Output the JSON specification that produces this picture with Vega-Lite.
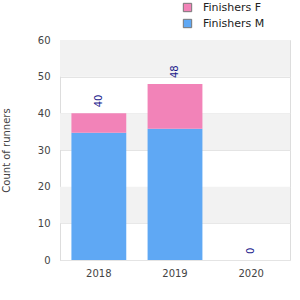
{
  "$schema": "https://vega.github.io/schema/vega-lite/v6.json",
  "autosize": "none",
  "width": 230,
  "height": 220,
  "padding": {"left": 60, "top": 40, "right": 10, "bottom": 40},
  "config": {
    "font": "DejaVu Sans",
    "view": {"stroke": "#dddddd"},
    "axis": {"labelFont": "DejaVu Sans", "titleFont": "DejaVu Sans", "labelColor": "#444444", "titleColor": "#444444", "labelFontSize": 10, "titleFontSize": 10, "titleFontWeight": "normal", "domainColor": "#dddddd", "gridColor": "#e4e4e4", "ticks": false}
  },
  "datasets": {
    "bands": [
      {"lo": 10, "hi": 20},
      {"lo": 30, "hi": 40},
      {"lo": 50, "hi": 60}
    ],
    "runners": [
      {"year": "2018", "series": "Finishers M", "count": 34.7},
      {"year": "2018", "series": "Finishers F", "count": 5.3},
      {"year": "2019", "series": "Finishers M", "count": 35.8},
      {"year": "2019", "series": "Finishers F", "count": 12.2},
      {"year": "2020", "series": "Finishers M", "count": 0},
      {"year": "2020", "series": "Finishers F", "count": 0}
    ]
  },
  "layer": [
    {
      "data": {"name": "bands"},
      "mark": {"type": "rect", "color": "#f2f2f2"},
      "encoding": {
        "y": {"field": "lo", "type": "quantitative", "scale": {"domain": [0, 60]}},
        "y2": {"field": "hi"}
      }
    },
    {
      "data": {"name": "runners"},
      "mark": {"type": "bar"},
      "encoding": {
        "x": {"field": "year", "type": "nominal", "title": null, "scale": {"paddingInner": 0.28, "paddingOuter": 0.15}, "axis": {"labelAngle": 0, "domain": false, "labelPadding": 8}},
        "y": {"field": "count", "type": "quantitative", "aggregate": "sum", "stack": "zero", "title": "Count of runners", "scale": {"domain": [0, 60]}, "axis": {"tickCount": 6, "labelPadding": 10, "titlePadding": 26}},
        "color": {"field": "series", "type": "nominal", "scale": {"domain": ["Finishers F", "Finishers M"], "range": ["#f283b8", "#5fa8f4"]},
          "legend": {"title": null, "orient": "none", "legendX": 122, "legendY": -38, "symbolType": "square", "symbolSize": 70, "symbolStrokeColor": "#777777", "symbolStrokeWidth": 1, "labelFontSize": 11, "labelColor": "#222222", "labelFont": "DejaVu Sans", "rowPadding": 3, "labelOffset": 10}},
        "order": {"field": "series", "sort": "descending"}
      }
    },
    {
      "data": {"name": "runners"},
      "mark": {"type": "text", "angle": 270, "align": "left", "baseline": "middle", "dx": 6, "fontSize": 10, "color": "#1a1a8c"},
      "encoding": {
        "x": {"field": "year", "type": "nominal"},
        "y": {"field": "count", "type": "quantitative", "aggregate": "sum"},
        "text": {"field": "count", "type": "quantitative", "aggregate": "sum", "format": ".0f"}
      }
    }
  ]
}
